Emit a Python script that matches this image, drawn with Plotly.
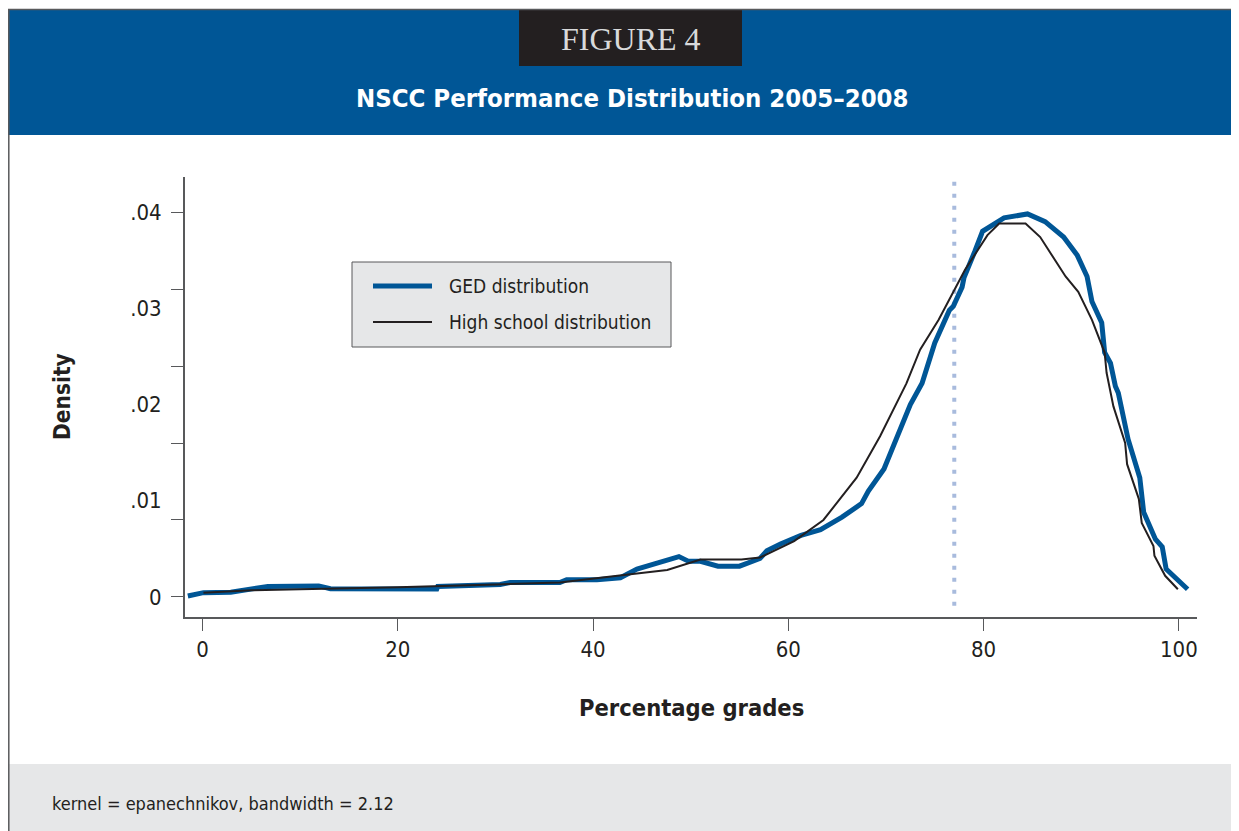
import plotly.graph_objects as go

# GED distribution (kernel density estimate)
ged_grade = [-1.5, 0.1, 2.9, 6.7, 11.9, 13.1, 24.0, 24.1, 30.5, 31.5, 36.6, 37.3,
             40.4, 42.1, 42.8, 44.5, 46.9, 48.8, 49.8, 51.0, 52.8, 55.0, 57.1, 57.8,
             59.2, 61.3, 63.3, 65.5, 67.5, 68.2, 69.8, 71.1, 72.5, 73.7, 75.0, 76.5,
             76.9, 77.8, 78.0, 79.1, 79.9, 82.1, 84.5, 86.3, 88.2, 89.6, 90.6, 91.1,
             92.1, 92.4, 93.0, 93.5, 93.8, 94.8, 96.0, 96.4, 97.6, 98.3, 98.7, 100.9]
ged_density = [0.0001, 0.00045, 0.0005, 0.0011, 0.00115, 0.00086, 0.00083, 0.0011,
               0.0013, 0.0015, 0.0015, 0.0018, 0.0018, 0.0020, 0.0020, 0.0029, 0.0037,
               0.0042, 0.0037, 0.0037, 0.0032, 0.0032, 0.0040, 0.0048, 0.0055, 0.0064,
               0.0070, 0.0083, 0.0097, 0.0110, 0.0133, 0.0164, 0.0200, 0.0222, 0.0264,
               0.0298, 0.0302, 0.0322, 0.0332, 0.0359, 0.0380, 0.0394, 0.0398, 0.0390,
               0.0374, 0.0355, 0.0333, 0.0307, 0.0285, 0.0254, 0.0243, 0.0219, 0.0212,
               0.0164, 0.0124, 0.0088, 0.0060, 0.0052, 0.0029, 0.0008]

# High school distribution
hs_grade = [0.1, 5.0, 10.0, 20.0, 30.1, 36.6, 42.5, 47.6, 51.0, 55.2, 57.1, 60.6,
            63.6, 67.0, 69.4, 72.1, 73.5, 75.4, 78.1, 79.7, 80.4, 81.6, 84.3, 85.8,
            87.0, 88.4, 89.7, 91.1, 92.4, 92.6, 93.3, 94.5, 94.7, 95.9, 96.2, 97.4,
            97.5, 98.6, 99.9]
hs_density = [0.00045, 0.0007, 0.0008, 0.0010, 0.0013, 0.0015, 0.0022, 0.0028, 0.0039,
              0.0039, 0.0041, 0.0058, 0.0080, 0.0124, 0.0167, 0.0222, 0.0257, 0.0288,
              0.0340, 0.0366, 0.0376, 0.0388, 0.0388, 0.0374, 0.0355, 0.0333, 0.0317,
              0.0288, 0.0254, 0.0233, 0.0198, 0.0160, 0.0138, 0.0102, 0.0077, 0.0053,
              0.0043, 0.0022, 0.0008]

cutoff = 77
x_ticks = [0, 20, 40, 60, 80, 100]
y_marks = [0, 0.008, 0.016, 0.024, 0.032, 0.04]
y_labels = [0, 0.01, 0.02, 0.03, 0.04]
y_label_text = ["0", ".01", ".02", ".03", ".04"]

BLUE = "#005696"
INK = "#231f20"
GREY = "#e6e7e8"
EDGE = "#58595b"
NARROW = "Liberation Sans Narrow, DejaVu Sans Condensed, Roboto Condensed, Liberation Sans, sans-serif"

# the page body adds an 8px margin, so the figure is that much smaller
PAGE_W, PAGE_H, OFF = 1239, 831, 8
W, H = PAGE_W - OFF, PAGE_H - OFF
# plot area in page pixels: x 185..1197, y 177..617
L, R, T, B = 185 - OFF, PAGE_W - 1197, 177 - OFF, PAGE_H - 617
PW, PH = W - L - R, H - T - B


def px(x):
    # page pixel -> paper x
    return (x - 185) / PW


def py(y):
    # page pixel -> paper y
    return (617 - y) / PH


fig = go.Figure()
fig.add_trace(go.Scatter(x=ged_grade, y=ged_density, mode="lines",
                         line=dict(color=BLUE, width=5), name="GED distribution"))
fig.add_trace(go.Scatter(x=hs_grade, y=hs_density, mode="lines",
                         line=dict(color=INK, width=2), name="High school distribution"))

shapes = [
    # header band, figure box, footer, frame
    dict(type="rect", xref="paper", yref="paper", x0=px(8), x1=px(PAGE_W), y0=py(135), y1=py(10),
         fillcolor=BLUE, line_width=0, layer="below"),
    dict(type="rect", xref="paper", yref="paper", x0=px(519), x1=px(742), y0=py(66), y1=py(10),
         fillcolor=INK, line_width=0, layer="below"),
    dict(type="rect", xref="paper", yref="paper", x0=px(8), x1=px(PAGE_W), y0=py(PAGE_H), y1=py(764),
         fillcolor=GREY, line_width=0, layer="below"),
    dict(type="line", xref="paper", yref="paper", x0=px(8.8), x1=px(8.8), y0=py(PAGE_H), y1=py(9),
         line=dict(color=EDGE, width=1.5)),
    dict(type="line", xref="paper", yref="paper", x0=px(8), x1=px(PAGE_W), y0=py(9.5), y1=py(9.5),
         line=dict(color=EDGE, width=1.5)),
    # cutoff line
    dict(type="line", xref="x", yref="y", x0=cutoff, x1=cutoff, y0=-0.0009, y1=0.0435,
         line=dict(color="#a8bbdd", width=4, dash="4px,8px"), layer="below"),
    # legend box and samples
    dict(type="rect", xref="paper", yref="paper", x0=px(352), x1=px(671), y0=py(347), y1=py(262),
         fillcolor=GREY, line=dict(color=EDGE, width=1)),
    dict(type="line", xref="paper", yref="paper", x0=px(373), x1=px(432), y0=py(286), y1=py(286),
         line=dict(color=BLUE, width=5)),
    dict(type="line", xref="paper", yref="paper", x0=px(373), x1=px(432), y0=py(322), y1=py(322),
         line=dict(color=INK, width=2)),
]


def label(text, x, y, size, family=NARROW, color=INK, xanchor="center", angle=0):
    return dict(text=text, x=px(x), y=py(y), xref="paper", yref="paper", showarrow=False,
                xanchor=xanchor, yanchor="middle", textangle=angle,
                font=dict(family=family, size=size, color=color))


annotations = [
    label("FIGURE 4", 631, 39, 32, family="Liberation Serif, serif", color="#d9dadb"),
    label("<b>NSCC Performance Distribution 2005\u20132008</b>", 632, 98, 25.5, color="white"),
    label("<b>Percentage grades</b>", 691, 708, 23.5),
    label("<b>Density</b>", 62, 397, 22.5, angle=-90),
    label("GED distribution", 447, 286, 19, xanchor="left"),
    label("High school distribution", 447, 322, 19, xanchor="left"),
    label("kernel = epanechnikov, bandwidth = 2.12", 50, 803, 18, xanchor="left"),
]

fig.update_layout(
    width=W, height=H,
    margin=dict(l=L, r=R, t=T, b=B),
    paper_bgcolor="white", plot_bgcolor="white",
    showlegend=False,
    shapes=shapes, annotations=annotations,
    xaxis=dict(range=[-1.79, 101.86], tickvals=x_ticks, ticks="outside", ticklen=12,
               tickcolor=EDGE, showline=True, linecolor=EDGE, linewidth=1.5,
               showgrid=False, zeroline=False,
               tickfont=dict(family=NARROW, size=22, color=INK)),
    yaxis=dict(range=[-0.00208, 0.04364], tickvals=y_marks, ticks="outside", ticklen=12,
               tickcolor=EDGE, showticklabels=False, showline=True, linecolor=EDGE,
               linewidth=1.5, showgrid=False, zeroline=False),
    yaxis2=dict(range=[-0.00208, 0.04364], overlaying="y", side="left", tickvals=y_labels,
                ticktext=y_label_text, ticks="outside", ticklen=18, tickcolor="rgba(0,0,0,0)",
                showgrid=False, zeroline=False, showline=False,
                tickfont=dict(family=NARROW, size=22, color=INK)),
)
fig.add_trace(go.Scatter(x=[None], y=[None], yaxis="y2", showlegend=False, hoverinfo="skip"))

fig.write_html("out.html")
